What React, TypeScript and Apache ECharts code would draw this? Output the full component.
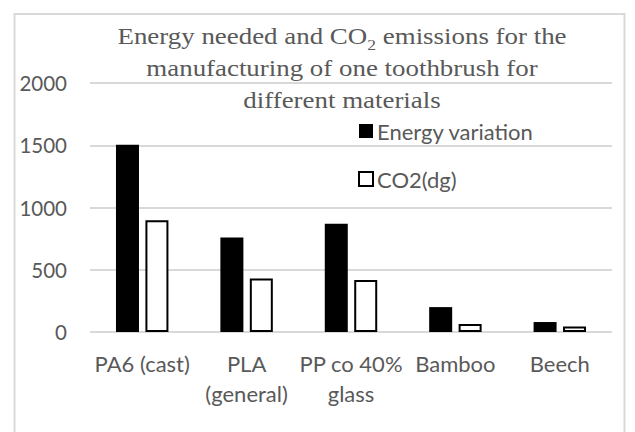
import React, { useEffect, useRef } from "react";
import * as echarts from "echarts";

const categories = ["PA6 (cast)", "PLA\n(general)", "PP co 40%\nglass", "Bamboo", "Beech"];
const energyValues = [1505, 760, 870, 200, 80];
const co2Values = [898, 430, 418, 65, 45];
const seriesNames = ["Energy variation", "CO2(dg)"];

const GRAY = "#595959";
const SANS = "Lato, 'Noto Sans', sans-serif";
const SERIF = "'Liberation Serif', 'DejaVu Serif', serif";

export default function App() {
  const ref = useRef<HTMLDivElement>(null);
  useEffect(() => {
    if (!ref.current) return;
    const chart = echarts.init(ref.current, null, { renderer: "svg" });
    chart.setOption({
      animation: false,
      backgroundColor: "#ffffff",
      graphic: [
        {
          type: "rect",
          shape: { x: 14.5, y: 14, width: 610, height: 440 },
          style: { fill: "none", stroke: "#d9d9d9", lineWidth: 2 },
          silent: true,
        },
        {
          type: "text",
          x: 342,
          y: 20,
          scaleX: 1.17,
          silent: true,
          style: {
            text: "{a|Energy needed and CO}{sub|2}{a| emissions for the}\n{a|manufacturing of one toothbrush for}\n{a|different materials}",
            align: "center",
            verticalAlign: "top",
            rich: {
              a: { fontFamily: SERIF, fontSize: 23, fontWeight: "normal", fill: GRAY, lineHeight: 32 },
              sub: { fontFamily: SERIF, fontSize: 15, fontWeight: "normal", fill: GRAY, lineHeight: 32, verticalAlign: "bottom", padding: [10, 0, 0, 0] },
            },
          },
        },
      ],
      legend: {
        orient: "vertical",
        left: 358,
        top: 119,
        padding: 0,
        itemWidth: 14,
        itemHeight: 14,
        itemGap: 24,
        icon: "rect",
        textStyle: { fontFamily: SANS, fontSize: 22, color: GRAY, lineHeight: 24, padding: [0, 0, 0, -1] },
        data: [
          { name: seriesNames[0], itemStyle: { color: "#000000", borderWidth: 0 } },
          { name: seriesNames[1], itemStyle: { color: "#ffffff", borderColor: "#000000", borderWidth: 2 } },
        ],
      },
      grid: { left: 90, right: 23, top: 83, height: 249, containLabel: false },
      xAxis: {
        type: "category",
        data: categories,
        axisLine: { show: false },
        axisTick: { show: false },
        axisLabel: { fontFamily: SANS, fontSize: 22, color: GRAY, lineHeight: 30, margin: 16, interval: 0 },
      },
      yAxis: {
        type: "value",
        min: 0,
        max: 2000,
        interval: 500,
        axisLine: { show: false },
        axisTick: { show: false },
        axisLabel: { fontFamily: SANS, fontSize: 20.5, color: GRAY, margin: 23, formatter: (v: number) => String(v) },
        splitLine: { lineStyle: { color: "#d9d9d9", width: 2 } },
      },
      series: [
        {
          name: seriesNames[0],
          type: "bar",
          data: energyValues,
          barWidth: 23,
          barGap: "28%",
          itemStyle: { color: "#000000" },
        },
        {
          name: seriesNames[1],
          type: "bar",
          data: co2Values,
          barWidth: 23,
          itemStyle: { color: "#ffffff", borderColor: "#000000", borderWidth: 2 },
        },
      ],
    });
    return () => chart.dispose();
  }, []);
  return <div ref={ref} style={{ position: "fixed", left: 0, top: 0, width: 635, height: 432 }} />;
}
